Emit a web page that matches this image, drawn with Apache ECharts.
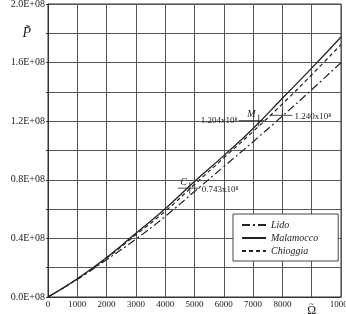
<!DOCTYPE html>
<html>
<head>
<meta charset="utf-8">
<script src="https://cdn.jsdelivr.net/npm/echarts@6/dist/echarts.min.js"></script>
<style>
  html, body { margin: 0; padding: 0; background: #fff; }
  #chart { width: 346px; height: 314px; }
</style>
</head>
<body>
<div id="chart"></div>
<script>
// Data (P values in units of 1E+08)
const omega = [0, 1000, 2000, 3000, 4000, 5000, 6000, 7000, 8000, 9000, 10000];
const lido = [0, 0.120, 0.255, 0.395, 0.550, 0.720, 0.890, 1.060, 1.235, 1.415, 1.600];
const malamocco = [0, 0.125, 0.270, 0.435, 0.603, 0.788, 0.965, 1.150, 1.357, 1.562, 1.775];
const chioggia = [0, 0.123, 0.265, 0.425, 0.585, 0.768, 0.950, 1.130, 1.318, 1.517, 1.724];

// Annotated points
const annoX = [4840, 7190, 8000];
const annoY = [0.743, 1.204, 1.240];
const annoText = ['0.743x10⁸', '1.204x10⁸', '1.240x10⁸'];
const annoName = ['C', 'M', ''];
const annoSide = ['right', 'left', 'right'];

const serif = '"Liberation Serif", "DejaVu Serif", serif';
const ink = '#222';

function pairs(ys) {
    return omega.map((x, i) => [x, ys[i]]);
}

const chart = echarts.init(document.getElementById('chart'));

function renderAnno(params, api) {
    const i = params.dataIndex;
    const p = api.coord([api.value(0), api.value(1)]);
    const children = [];
    // vertical tick at the point
    children.push({
        type: 'line',
        shape: { x1: p[0], y1: p[1] - 6, x2: p[0], y2: p[1] + 6 },
        style: { stroke: ink, lineWidth: 0.8 }
    });
    if (annoSide[i] === 'left') {
        children.push({
            type: 'line',
            shape: { x1: p[0] - 20, y1: p[1], x2: p[0] + 6, y2: p[1] },
            style: { stroke: ink, lineWidth: 0.8 }
        });
        children.push({
            type: 'text',
            style: {
                text: annoText[i], x: p[0] - 21, y: p[1],
                align: 'right', verticalAlign: 'middle',
                font: '9px ' + serif, fill: ink
            }
        });
    } else {
        children.push({
            type: 'line',
            shape: { x1: p[0] - 12, y1: p[1], x2: p[0] + 10, y2: p[1] },
            style: { stroke: ink, lineWidth: 0.8 }
        });
        children.push({
            type: 'text',
            style: {
                text: annoText[i], x: p[0] + 12, y: p[1] + 1,
                align: 'left', verticalAlign: 'middle',
                font: '9px ' + serif, fill: ink
            }
        });
    }
    if (annoName[i]) {
        children.push({
            type: 'text',
            style: {
                text: annoName[i], x: p[0] - 3, y: p[1] - 1,
                align: 'right', verticalAlign: 'bottom',
                font: 'italic 10px ' + serif, fill: ink
            }
        });
    }
    return { type: 'group', children: children };
}

const option = {
    animation: false,
    backgroundColor: '#fff',
    grid: {
        left: 48, right: 5, top: 4, bottom: 17,
        containLabel: false,
        outerBoundsMode: 'none',
        show: true, borderColor: '#333', borderWidth: 1
    },
    legend: {
        orient: 'vertical',
        left: 233, top: 214,
        data: ['Lido', 'Malamocco', 'Chioggia'],
        itemWidth: 24, itemHeight: 10, itemGap: 3,
        padding: [6, 20, 5, 8],
        backgroundColor: '#fff',
        borderColor: '#444', borderWidth: 1,
        itemStyle: { opacity: 0 },
        textStyle: { fontFamily: serif, fontStyle: 'italic', fontSize: 10, color: ink }
    },
    xAxis: {
        type: 'value',
        min: 0, max: 10000, interval: 1000,
        axisLine: { show: true, lineStyle: { color: '#333', width: 1 } },
        axisTick: { show: false },
        splitLine: { show: true, lineStyle: { color: '#555', width: 1 } },
        axisLabel: {
            margin: 3,
            fontFamily: serif, fontSize: 9, color: ink,
            formatter: function (v) {
                if (v === 9000) return '{t|~}\n{om|Ω}';
                return String(v);
            },
            rich: {
                t: { fontFamily: serif, fontSize: 9, color: ink, lineHeight: 5, padding: [4, 0, 0, 0] },
                om: { fontFamily: serif, fontSize: 12, color: ink, lineHeight: 11 }
            }
        }
    },
    yAxis: {
        type: 'value',
        min: 0, max: 2.0, interval: 0.2,
        axisLine: { show: true, lineStyle: { color: '#333', width: 1 } },
        axisTick: { show: true, length: 2, lineStyle: { color: '#333' } },
        splitLine: { show: true, lineStyle: { color: '#555', width: 1 } },
        axisLabel: {
            margin: 3,
            fontFamily: serif, fontSize: 10, color: ink,
            formatter: function (v) {
                const k = Math.round(v / 0.2);
                if (k === 9) return '{p|P̃}';
                if (k % 2 === 1) return '';
                return v.toFixed(1) + 'E+08';
            },
            rich: { p: { fontFamily: serif, fontStyle: 'italic', fontSize: 14, color: ink, padding: [0, 14, 0, 0] } }
        }
    },
    series: [
        {
            name: 'Lido', type: 'line', smooth: true, symbol: 'none',
            data: pairs(lido),
            lineStyle: { color: ink, width: 1.2, type: [8, 3, 2, 3] },
            itemStyle: { color: ink }
        },
        {
            name: 'Malamocco', type: 'line', smooth: true, symbol: 'none',
            data: pairs(malamocco),
            lineStyle: { color: ink, width: 1.3, type: 'solid' },
            itemStyle: { color: ink }
        },
        {
            name: 'Chioggia', type: 'line', smooth: true, symbol: 'none',
            data: pairs(chioggia),
            lineStyle: { color: ink, width: 1.2, type: [4, 3] },
            itemStyle: { color: ink }
        },
        {
            type: 'custom',
            renderItem: renderAnno,
            data: annoX.map((x, i) => [x, annoY[i]]),
            z: 5,
            silent: true
        }
    ]
};

chart.setOption(option);
</script>
</body>
</html>
